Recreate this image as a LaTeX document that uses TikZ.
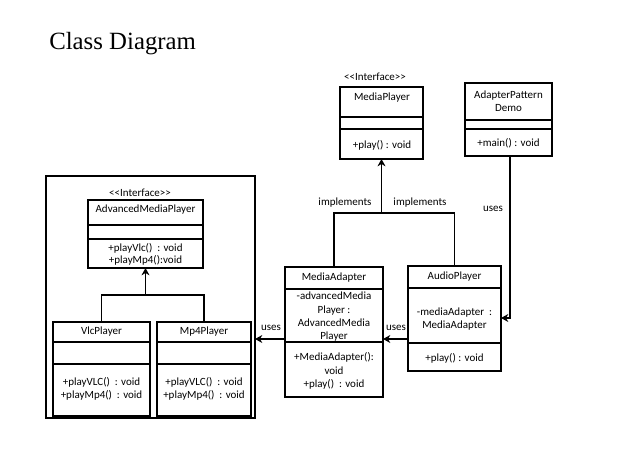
\documentclass[tikz,border=0pt]{standalone}
\usepackage{fontspec}
\setmainfont{Carlito}
\newfontfamily\titlefont{Liberation Serif}
\usetikzlibrary{arrows.meta}
\begin{document}
\begin{tikzpicture}[x=0.75pt,y=-0.75pt,
  cls/.style 2 args={draw, line width=1.4pt, inner sep=0pt, outer sep=0pt, anchor=north west,
     minimum width=#1*0.75pt, minimum height=#2*0.75pt},
  txt/.style={font=\fontsize{8.25}{10}\selectfont, align=center, inner sep=0pt},
  conn/.style={line width=1.4pt},
  arr/.style={conn, -{Stealth[length=5.5pt,width=6pt]}}]
\useasboundingbox[fill=white] (0,0) rectangle (619,468);

\node[font=\titlefont\fontsize{18.6}{22}\selectfont, anchor=base west, inner sep=0pt] (title) at (49,49) {Class Diagram};

% MediaPlayer
\node[txt] (mpst) at (375,77) {<\kern0pt<Interface>\kern0pt>};
\node[cls={83}{72}] (mp) at (340,87) {};
\draw[conn] (mp.west |- 0,117) -- (mp.east |- 0,117);
\draw[conn] (mp.west |- 0,129) -- (mp.east |- 0,129);
\node[txt] (mpt) at (382,98) {MediaPlayer};
\node[txt] (mpm) at (382,145) {+play() : void};

% AdapterPatternDemo
\node[cls={87}{73}] (apd) at (465,83) {};
\draw[conn] (apd.west |- 0,120) -- (apd.east |- 0,120);
\draw[conn] (apd.west |- 0,129) -- (apd.east |- 0,129);
\node[txt] (apdt) at (508.5,101) {AdapterPattern\\Demo};
\node[txt] (apdm) at (508.5,143) {+main() : void};

% frame
\node[cls={209}{242}] (frame) at (46,176) {};

% AdvancedMediaPlayer
\node[txt] (ampst) at (140,193) {<\kern0pt<Interface>\kern0pt>};
\node[cls={115}{68}] (amp) at (88,200) {};
\draw[conn] (amp.west |- 0,225) -- (amp.east |- 0,225);
\draw[conn] (amp.west |- 0,239) -- (amp.east |- 0,239);
\node[txt] (ampt) at (145.5,210) {AdvancedMediaPlayer};
\node[txt, font=\fontsize{8.25}{9}\selectfont] (ampm) at (145.5,254) {+playVlc()\ \ : void\\+playMp4():void};

% VlcPlayer
\node[cls={97}{94}] (vlc) at (53,322) {};
\draw[conn] (vlc.west |- 0,342) -- (vlc.east |- 0,342);
\draw[conn] (vlc.west |- 0,364) -- (vlc.east |- 0,364);
\node[txt] (vlct) at (101.5,332) {VlcPlayer};
\node[txt] (vlcm) at (101.5,389) {+playVLC()\ \ : void\\+playMp4()\ \ : void};

% Mp4Player
\node[cls={94}{94}] (mp4) at (157,322) {};
\draw[conn] (mp4.west |- 0,342) -- (mp4.east |- 0,342);
\draw[conn] (mp4.west |- 0,364) -- (mp4.east |- 0,364);
\node[txt] (mp4t) at (204,332) {Mp4Player};
\node[txt] (mp4m) at (204,389) {+playVLC()\ \ : void\\+playMp4()\ \ : void};

% MediaAdapter
\node[cls={98}{130}] (ma) at (285,267) {};
\draw[conn] (ma.west |- 0,289) -- (ma.east |- 0,289);
\draw[conn] (ma.west |- 0,342) -- (ma.east |- 0,342);
\node[txt] (mat) at (334,278) {MediaAdapter};
\node[txt] (maa) at (334,317) {-advancedMedia\\Player :\\AdvancedMedia\\Player};
\node[txt] (mam) at (334,371) {+MediaAdapter():\\void\\+play()\ \ : void};

% AudioPlayer
\node[cls={93}{105}] (au) at (408,266) {};
\draw[conn] (au.west |- 0,288) -- (au.east |- 0,288);
\draw[conn] (au.west |- 0,343) -- (au.east |- 0,343);
\node[txt] (aut) at (454.5,277) {AudioPlayer};
\node[txt] (aua) at (454.5,319) {-mediaAdapter\ \ :\\MediaAdapter};
\node[txt] (aum) at (454.5,358) {+play() : void};

% implements
\coordinate (j1) at (381.5,213);
\draw[conn] (ma.north) |- (j1) -| (au.north);
\draw[arr] (j1) -- (mp.south);
\node[txt] (impl1) at (345,203) {implements};
\node[txt] (impl2) at (420,203) {implements};

% advanced inheritance
\coordinate (j2) at (145.5,295);
\draw[conn] (vlc.north) |- (j2) -| (mp4.north);
\draw[arr] (j2) -- (amp.south);

% uses
\draw[arr] (ma.west |- 0,339) -- (frame.east |- 0,339);
\node[txt] (uses1) at (271,328) {uses};
\draw[arr] (au.west |- 0,339) -- (ma.east |- 0,339);
\node[txt] (uses2) at (396,328) {uses};
\coordinate (c1) at (510,318);
\draw[arr] (apd.south -| c1) -- (c1) -- (au.east |- c1);
\node[txt] (uses3) at (493,209) {uses};
\end{tikzpicture}
\end{document}
